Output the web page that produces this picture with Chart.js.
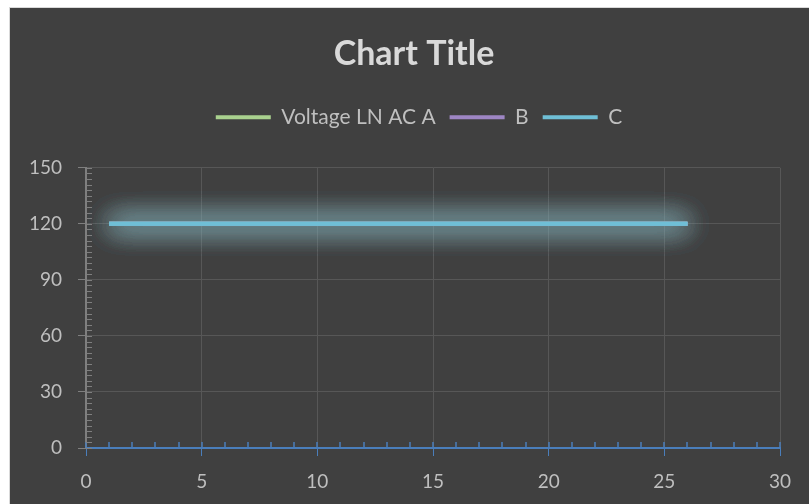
<!DOCTYPE html>
<html>
<head>
<meta charset="utf-8">
<script src="https://cdn.jsdelivr.net/npm/chart.js@4.4.1/dist/chart.umd.min.js"></script>
<style>
    body { margin: 0; background: #ffffff; }
    #frame { position: absolute; left: 9px; top: 7px; width: 800px; height: 497px; background: #d9d9d9; }
    #box { position: absolute; left: 1px; top: 1px; width: 799px; height: 496px; background: #404040; }
</style>
</head>
<body>
<div id="frame"><div id="box"><canvas id="chart"></canvas></div></div>
<script>
// Data
const xValues = [1, 2, 3, 4, 5, 6, 7, 8, 9, 10, 11, 12, 13, 14, 15, 16, 17, 18, 19, 20, 21, 22, 23, 24, 25, 26];
const voltageA = [120, 120, 120, 120, 120, 120, 120, 120, 120, 120, 120, 120, 120, 120, 120, 120, 120, 120, 120, 120, 120, 120, 120, 120, 120, 120];
const voltageB = [120, 120, 120, 120, 120, 120, 120, 120, 120, 120, 120, 120, 120, 120, 120, 120, 120, 120, 120, 120, 120, 120, 120, 120, 120, 120];
const voltageC = [120, 120, 120, 120, 120, 120, 120, 120, 120, 120, 120, 120, 120, 120, 120, 120, 120, 120, 120, 120, 120, 120, 120, 120, 120, 120];
const seriesNames = ['Voltage LN AC A', 'B', 'C'];
const xTickStep = 5;
const yTickStep = 30;

const seriesColors = ['#a9d18e', '#9e86c4', '#6fbfd6'];
const glowColors = ['rgba(140, 185, 180, 1)', 'rgba(140, 170, 190, 1)', 'rgba(130, 190, 200, 1)'];
const textColor = '#bfbfbf';
const gridColor = '#575757';
const xAxisColor = '#4a7ebb';
const yAxisColor = '#7f7f7f';

const toPoints = (vals) => vals.map((v, i) => ({ x: xValues[i], y: v }));

// --- PLUGINS ---
// extra room under the legend, and nudge the row a bit right
const legendSpace = {
    id: 'legendSpace',
    beforeInit(chart) {
        const fit = chart.legend.fit;
        chart.legend.fit = function () {
            fit.bind(chart.legend)();
            this.height += 30;
            if (this.lineWidths && this.lineWidths.length) this.lineWidths[0] -= 10;
        };
    }
};

// soft glow round each line (an extra shadowed pass makes it thicker)
const glow = {
    id: 'glow',
    beforeDatasetDraw(chart, args) {
        const ctx = chart.ctx;
        ctx.save();
        ctx.shadowColor = glowColors[args.index];
        ctx.shadowBlur = 28;
        chart.getDatasetMeta(args.index).controller.draw();
    },
    afterDatasetDraw(chart) {
        chart.ctx.restore();
    }
};

// minor ticks on both axes
const minorTicks = {
    id: 'minorTicks',
    afterDraw(chart) {
        const { ctx, scales: { x, y } } = chart;
        const x0 = x.getPixelForValue(0);
        const y0 = y.getPixelForValue(0);
        ctx.save();
        ctx.strokeStyle = xAxisColor;
        ctx.lineWidth = 1.5;
        for (let v = x.min; v <= x.max; v += 1) {
            const px = Math.round(x.getPixelForValue(v));
            ctx.beginPath();
            ctx.moveTo(px, y0);
            ctx.lineTo(px, y0 - 6);
            ctx.stroke();
        }
        ctx.strokeStyle = yAxisColor;
        ctx.lineWidth = 1;
        for (let v = y.min; v <= y.max; v += 3) {
            const py = Math.round(y.getPixelForValue(v)) + 0.5;
            ctx.beginPath();
            ctx.moveTo(x0, py);
            ctx.lineTo(x0 + 6, py);
            ctx.stroke();
        }
        ctx.restore();
    }
};

// later series sit on top, like Excel
const makeDataset = (i, vals) => ({
    label: seriesNames[i],
    data: toPoints(vals),
    borderColor: seriesColors[i],
    backgroundColor: seriesColors[i],
    borderWidth: 4,
    borderCapStyle: 'butt',
    pointRadius: 0,
    pointStyle: 'line',
    tension: 0,
    order: seriesNames.length - i
});

new Chart(document.getElementById('chart'), {
    type: 'line',
    data: {
        datasets: [
            makeDataset(0, voltageA),
            makeDataset(1, voltageB),
            makeDataset(2, voltageC)
        ]
    },
    options: {
        responsive: true,
        maintainAspectRatio: false,
        animation: false,
        devicePixelRatio: 1,
        layout: { padding: { left: 9, right: 0, top: 0, bottom: 0 } },
        plugins: {
            title: {
                display: true,
                text: 'Chart Title',
                color: '#d9d9d9',
                font: { family: 'Lato', size: 34, weight: 'bold' },
                padding: { top: 26, bottom: 18 }
            },
            legend: {
                labels: {
                    color: textColor,
                    font: { family: 'Lato', size: 21 },
                    usePointStyle: true,
                    pointStyleWidth: 55,
                    padding: 14,
                    sort: (a, b) => a.datasetIndex - b.datasetIndex
                }
            },
            tooltip: { enabled: false }
        },
        scales: {
            x: {
                type: 'linear',
                min: 0,
                max: 30,
                ticks: { stepSize: xTickStep, color: textColor, font: { family: 'Lato', size: 19 }, padding: 14 },
                grid: { color: gridColor, tickColor: xAxisColor, tickLength: 8, lineWidth: 1 },
                border: { color: xAxisColor, width: 2 },
                afterFit: (s) => { s.height = 56; }
            },
            y: {
                min: 0,
                max: 150,
                ticks: { stepSize: yTickStep, color: textColor, font: { family: 'Lato', size: 19 }, padding: 16 },
                grid: { color: gridColor, tickColor: yAxisColor, tickLength: 8, lineWidth: 1 },
                border: { color: yAxisColor, width: 2 },
                afterFit: (s) => { s.width = 67; }
            },
            // empty strip on the right so the plot stops short of the edge
            yRight: {
                position: 'right',
                display: true,
                grid: { display: false, drawTicks: false },
                border: { display: false },
                ticks: { display: false },
                afterFit: (s) => { s.width = 29; }
            }
        }
    },
    plugins: [legendSpace, glow, minorTicks]
});
</script>
</body>
</html>
